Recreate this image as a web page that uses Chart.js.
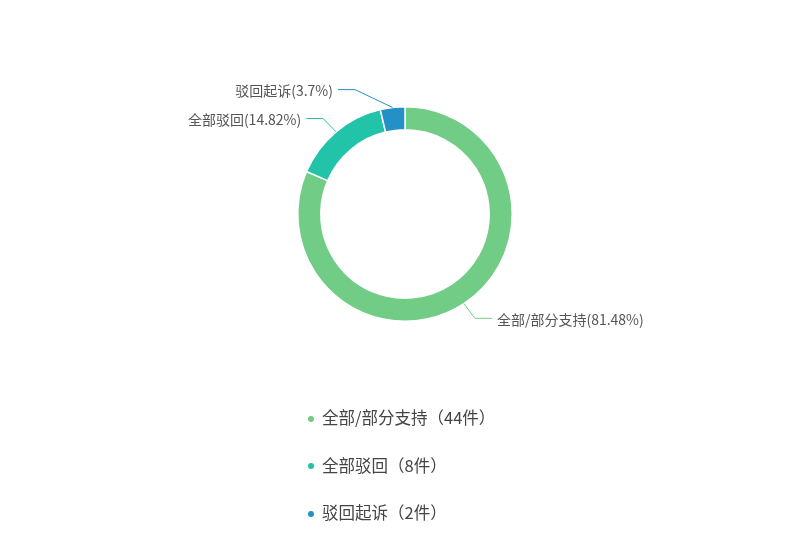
<!DOCTYPE html>
<html>
<head>
<meta charset="utf-8">
<script src="https://cdn.jsdelivr.net/npm/chart.js@4.4.1/dist/chart.umd.min.js"></script>
<style>
  body { margin: 0; background: #fff; }
  #wrap { position: relative; width: 810px; height: 536px; }
  #legend {
    position: absolute; left: 308px; top: 394px; margin: 0; padding: 0;
    list-style: none; font-family: "Noto Sans CJK SC", "Noto Sans", sans-serif;
    font-size: 16.5px; color: #444;
  }
  #legend li { height: 47.5px; line-height: 47.5px; white-space: nowrap; }
  #legend span.dot {
    display: inline-block; width: 6px; height: 6px; border-radius: 50%;
    margin-right: 8px; vertical-align: middle; position: relative; top: -1px;
  }
</style>
</head>
<body>
<div id="wrap">
  <canvas id="canvas" width="810" height="536"></canvas>
  <ul id="legend"></ul>
</div>
<script>
const categories = ['全部/部分支持', '全部驳回', '驳回起诉'];
const counts = [44, 8, 2];
const percents = ['81.48%', '14.82%', '3.7%'];
const colors = ['#71cd86', '#22c4a9', '#2390c6'];

// labels outside the ring with a two-part leader line
const outerLabels = {
    id: 'outerLabels',
    afterDatasetsDraw(chart) {
        const ctx = chart.ctx;
        const arcs = chart.getDatasetMeta(0).data;
        ctx.save();
        ctx.font = '14px "Noto Sans CJK SC", "Noto Sans", sans-serif';
        ctx.textBaseline = 'middle';
        arcs.forEach((arc, i) => {
            const p = arc.getProps(['x', 'y', 'startAngle', 'endAngle', 'outerRadius'], true);
            const mid = (p.startAngle + p.endAngle) / 2;
            const r = p.outerRadius;
            const x0 = p.x + Math.cos(mid) * r;
            const y0 = p.y + Math.sin(mid) * r;
            let x1 = p.x + Math.cos(mid) * (r + 20);
            const y1 = p.y + Math.sin(mid) * (r + 20) + (Math.sin(mid) < 0 ? 2 : -2);
            const dir = Math.cos(mid) >= 0 ? 1 : -1;
            if (Math.abs(x1 - p.x) < 50) x1 = p.x + dir * 50;
            const x2 = x1 + dir * 17;
            ctx.strokeStyle = colors[i];
            ctx.lineWidth = 1;
            ctx.beginPath();
            ctx.moveTo(x0, y0);
            ctx.lineTo(x1, y1);
            ctx.lineTo(x2, y1);
            ctx.stroke();
            ctx.fillStyle = '#555';
            ctx.textAlign = dir > 0 ? 'left' : 'right';
            ctx.fillText(categories[i] + '(' + percents[i] + ')', x2 + dir * 5, y1 + 1);
        });
        ctx.restore();
    }
};

const data = {
    labels: categories,
    datasets: [{
        data: counts,
        backgroundColor: colors,
        borderColor: '#fff',
        borderWidth: 1.5,
        hoverOffset: 0
    }]
};
const config = {
    type: 'doughnut',
    data: data,
    options: {
        responsive: false,
        animation: false,
        cutout: '78.5%',
        layout: { padding: { top: 106, bottom: 214, left: 0, right: 0 } },
        plugins: {
            legend: { display: false },
            tooltip: { enabled: false }
        }
    },
    plugins: [outerLabels]
};
const myChart = new Chart(document.querySelector('#canvas'), config);

const legend = document.querySelector('#legend');
categories.forEach((name, i) => {
    const li = document.createElement('li');
    const dot = document.createElement('span');
    dot.className = 'dot';
    dot.style.background = colors[i];
    li.appendChild(dot);
    li.appendChild(document.createTextNode(name + '（' + counts[i] + '件）'));
    legend.appendChild(li);
});
</script>
</body>
</html>
